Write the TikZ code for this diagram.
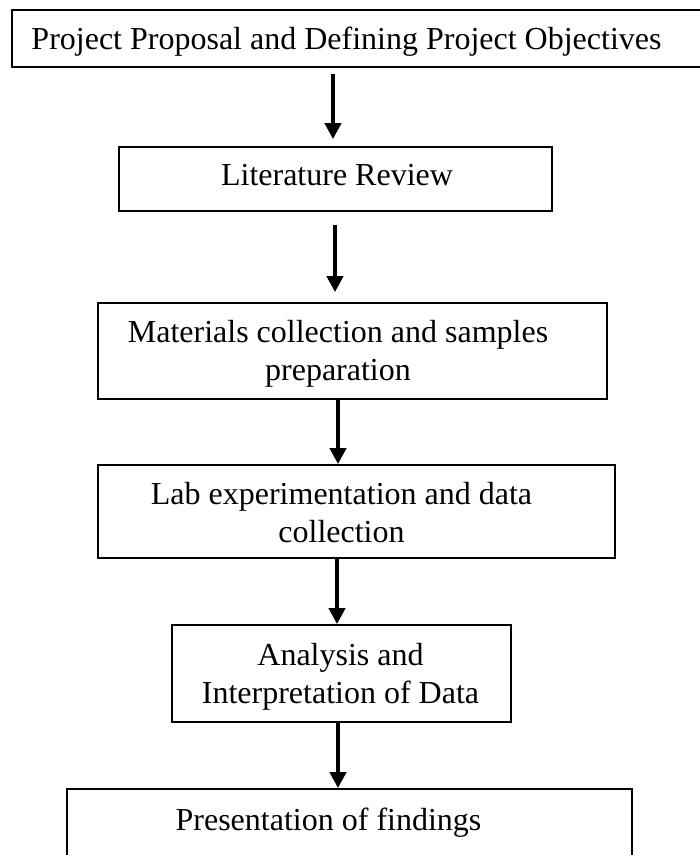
\documentclass[tikz,border=0pt]{standalone}
\usepackage{fontspec}
\setmainfont{Liberation Serif}
\usetikzlibrary{arrows.meta,fit}
\begin{document}
\begin{tikzpicture}[x=0.5pt,y=-0.5pt,
  box/.style={draw=black,line width=0.9pt,inner sep=0pt,rectangle},
  txt/.style={inner sep=0pt,align=center,font=\fontsize{16}{19}\selectfont},
  arr/.style={line width=2.1pt,-{Triangle[length=8pt,width=8pt]}}]
\useasboundingbox (0,0) rectangle (700,855);
% boxes
\node[box,fit={(12,10) (706,67)}] (b1) {};
\node[box,fit={(119,147) (552,211)}] (b2) {};
\node[box,fit={(98,303) (607,399)}] (b3) {};
\node[box,fit={(98,465) (615,558)}] (b4) {};
\node[box,fit={(172,625) (511,722)}] (b5) {};
\node[box,fit={(67,789) (632,880)}] (b6) {};
% texts
\node[txt] (t1) at (346.5,42.4) {\strut Project Proposal and Defining Project Objectives};
\node[txt] (t2) at (337,178.4) {\strut Literature Review};
\node[txt] (t3) at (338,353.4) {\strut Materials collection and samples\\\strut preparation};
\node[txt] (t4) at (341.5,515.4) {\strut Lab experimentation and data\\\strut collection};
\node[txt] (t5) at (340.5,676.4) {\strut Analysis and\\\strut Interpretation of Data};
\node[txt] (t6) at (328.5,822.4) {\strut Presentation of findings};
% arrow x positions
\coordinate (x1) at (333,0);
\coordinate (x2) at (335,0);
\coordinate (x3) at (338,0);
\coordinate (x4) at (337,0);
\coordinate (x5) at (338,0);
% arrows
\draw[arr,shorten <=3pt,shorten >=3.5pt] (b1.south -| x1) -- (b2.north -| x1);
\draw[arr,shorten <=6.5pt,shorten >=5pt] (b2.south -| x2) -- (b3.north -| x2);
\draw[arr] (b3.south -| x3) -- (b4.north -| x3);
\draw[arr] (b4.south -| x4) -- (b5.north -| x4);
\draw[arr] (b5.south -| x5) -- (b6.north -| x5);
\end{tikzpicture}
\end{document}
